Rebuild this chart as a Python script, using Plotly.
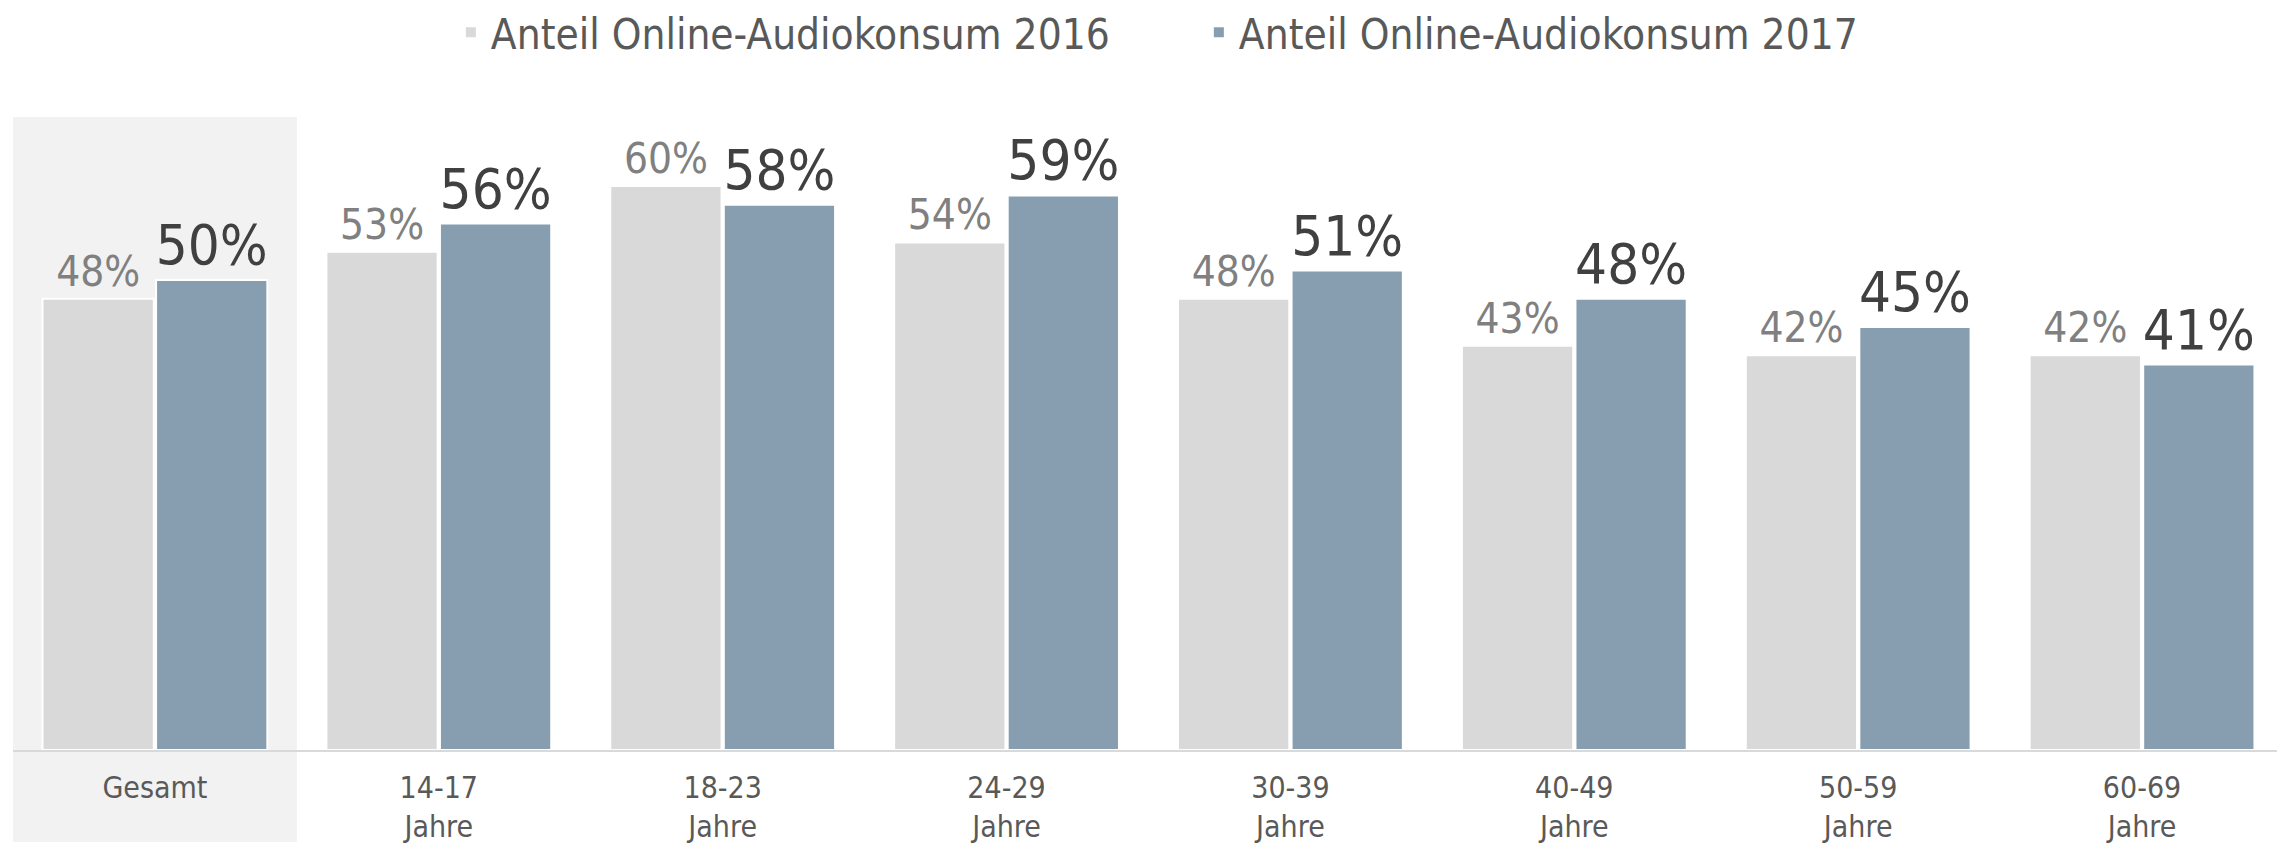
import plotly.graph_objects as go

categories = ["Gesamt", "14-17", "18-23", "24-29", "30-39", "40-49", "50-59", "60-69"]
tick_labels = ["Gesamt", "14-17<br>Jahre", "18-23<br>Jahre", "24-29<br>Jahre", "30-39<br>Jahre",
               "40-49<br>Jahre", "50-59<br>Jahre", "60-69<br>Jahre"]
values_2016 = [48, 53, 60, 54, 48, 43, 42, 42]
values_2017 = [50, 56, 58, 59, 51, 48, 45, 41]
name_2016 = "Anteil Online-Audiokonsum 2016"
name_2017 = "Anteil Online-Audiokonsum 2017"

FONT = "DejaVu Sans Condensed, Open Sans, sans-serif"

fig = go.Figure()
fig.add_trace(go.Bar(
    x=categories, y=values_2016, name=name_2016,
    marker=dict(color="#d9d9d9", line=dict(color="white", width=2)),
    texttemplate="%{y}%", textposition="outside", constraintext="none",
    textfont=dict(family=FONT, size=42, color="#808080"),
    cliponaxis=False,
))
fig.add_trace(go.Bar(
    x=categories, y=values_2017, name=name_2017,
    marker=dict(color="#879eb0", line=dict(color="white", width=2)),
    texttemplate="%{y}%", textposition="outside", constraintext="none",
    textfont=dict(family=FONT, size=56, color="#404040"),
    cliponaxis=False,
))

fig.add_shape(type="rect", xref="x", yref="paper", x0=-0.5, x1=0.5, y0=-0.14, y1=0.962,
              fillcolor="#f2f2f2", line=dict(width=0), layer="below")

fig.update_layout(
    width=2277, height=839, autosize=False,
    margin=dict(l=5, r=1, t=84, b=97, autoexpand=False),
    paper_bgcolor="white", plot_bgcolor="rgba(0,0,0,0)",
    barmode="group", bargap=0.2, bargroupgap=0.02,
    font=dict(family=FONT, color="#595959"),
    showlegend=True,
    legend=dict(orientation="h", x=0.1928, xanchor="left",
                yref="container", y=0.971, yanchor="middle",
                font=dict(family=FONT, size=42, color="#595959"),
                entrywidth=703, bgcolor="rgba(0,0,0,0)", traceorder="normal"),
    xaxis=dict(range=[-0.5, 7.5], tickmode="array", tickvals=categories, ticktext=tick_labels,
               automargin=False,
               showline=True, linecolor="#d9d9d9", linewidth=2, showgrid=False,
               ticks="outside", ticklen=10, tickcolor="rgba(0,0,0,0)",
               tickfont=dict(family=FONT, size=30, color="#595959")),
    yaxis=dict(range=[0, 70], visible=False, showgrid=False, zeroline=False, automargin=False),
)

fig.write_html("out.html")
